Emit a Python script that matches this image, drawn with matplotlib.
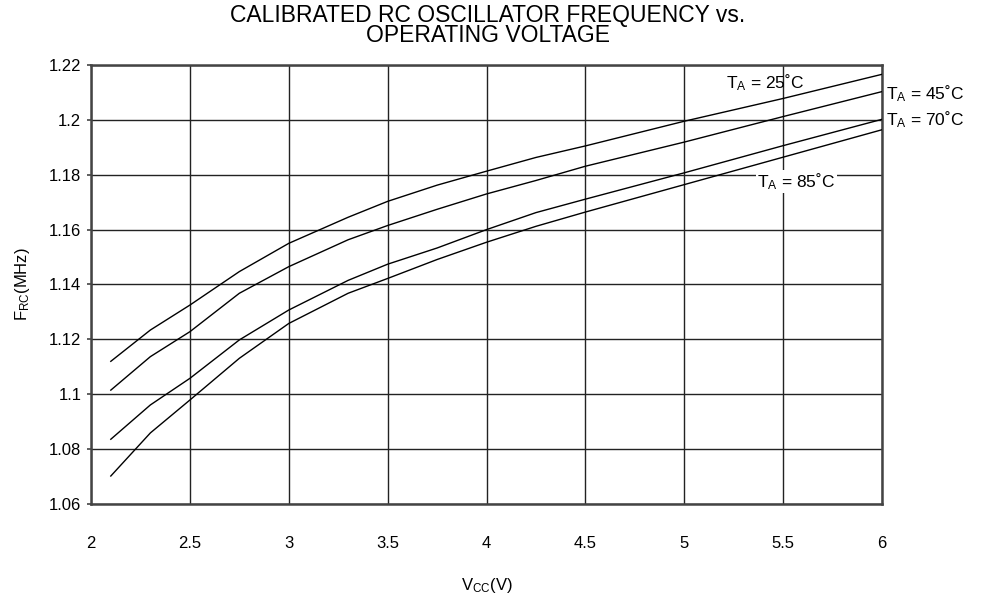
import matplotlib
matplotlib.use('Agg')
import matplotlib.pyplot as plt

plt.rcParams['font.family'] = ['Liberation Sans', 'DejaVu Sans']
plt.rcParams['mathtext.fontset'] = 'custom'
plt.rcParams['mathtext.rm'] = 'Liberation Sans'
plt.rcParams['mathtext.it'] = 'Liberation Sans'

# supply voltage (V) and calibrated RC frequency (MHz) per temperature
vcc = [2.1, 2.3, 2.5, 2.75, 3.0, 3.3, 3.5, 3.75, 4.0, 4.25, 4.5, 5.0, 5.5, 6.0]
f_25 = [1.112, 1.1234, 1.1325, 1.1447, 1.155, 1.1645, 1.1703, 1.1762, 1.1813,
        1.1863, 1.1905, 1.1995, 1.2078, 1.2166]
f_45 = [1.1015, 1.1137, 1.1228, 1.1368, 1.1465, 1.1563, 1.1615, 1.1674, 1.173,
        1.1779, 1.1831, 1.1919, 1.2012, 1.2103]
f_70 = [1.0836, 1.0961, 1.1058, 1.1198, 1.1307, 1.1415, 1.1474, 1.1533, 1.16,
        1.1662, 1.1711, 1.1807, 1.1906, 1.2002]
f_85 = [1.0702, 1.0859, 1.0979, 1.1131, 1.1258, 1.1368, 1.1422, 1.1491, 1.1554,
        1.1612, 1.1664, 1.1764, 1.1864, 1.1964]

x_ticks = [2, 2.5, 3, 3.5, 4, 4.5, 5, 5.5, 6]
x_labels = ['2', '2.5', '3', '3.5', '4', '4.5', '5', '5.5', '6']
y_ticks = [1.06, 1.08, 1.1, 1.12, 1.14, 1.16, 1.18, 1.2, 1.22]
y_labels = ['1.06', '1.08', '1.1', '1.12', '1.14', '1.16', '1.18', '1.2', '1.22']

fig = plt.figure(figsize=(9.81, 6.0), dpi=100)
ax = fig.add_axes([0.0928, 0.16, 0.8063, 0.7317])

for f in (f_25, f_45, f_70, f_85):
    ax.plot(vcc, f, color='black', lw=1.0, zorder=3)

ax.set_xlim(2, 6)
ax.set_ylim(1.06, 1.22)
ax.set_xticks(x_ticks)
ax.set_xticklabels(x_labels)
ax.set_yticks(y_ticks)
ax.set_yticklabels(y_labels)
ax.grid(True, color='#222222', lw=1.0, zorder=1)
ax.tick_params(axis='x', length=0, pad=23, labelsize=12)
ax.tick_params(axis='y', length=3, width=1.2, pad=4, labelsize=12, color='#444444')
for s in ax.spines.values():
    s.set_linewidth(1.8)
    s.set_color('#444444')

ax.set_xlabel(r'V$_\mathregular{CC}$(V)', fontsize=12, labelpad=18)
ax.set_ylabel(r'F$_\mathregular{RC}$(MHz)', fontsize=12, labelpad=12)
fig.text(0.4975, 0.957, 'CALIBRATED RC OSCILLATOR FREQUENCY vs.\nOPERATING VOLTAGE',
         ha='center', va='center', fontsize=16.5, linespacing=0.84)

lab = r'T$_\mathregular{A}$ = %d˚C'
ax.text(5.21, 1.2135, lab % 25, fontsize=12.5, va='center', ha='left', zorder=4)
ax.text(6.02, 1.2095, lab % 45, fontsize=12.5, va='center', ha='left', clip_on=False)
ax.text(6.02, 1.2001, lab % 70, fontsize=12.5, va='center', ha='left', clip_on=False)
ax.text(5.37, 1.1775, lab % 85, fontsize=12.5, va='center', ha='left', zorder=4,
        bbox=dict(facecolor='white', edgecolor='none', pad=1))

fig.savefig('out.png', dpi=100)
